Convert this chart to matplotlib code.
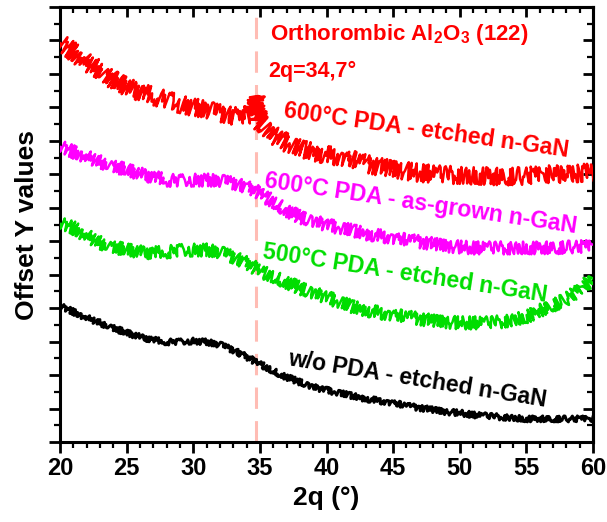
import matplotlib
matplotlib.use("Agg")
import matplotlib.pyplot as plt
from matplotlib.ticker import MultipleLocator, NullFormatter

# ---- data (y in offset units) ----
two_theta = list(range(20, 61))

red_theta = list(range(20, 35)) + [34.5, 34.7, 34.9] + list(range(36, 61))
red_600_etched = [11.92, 11.66, 11.33, 11.12, 10.82, 10.61, 10.46, 10.34, 10.22, 10.10,
                  10.01, 9.92, 9.83, 9.74, 9.77,
                  9.80, 10.35, 9.60,
                  9.17, 8.94, 8.76, 8.67, 8.58, 8.52, 8.43, 8.31, 8.22, 8.16,
                  8.10, 8.04, 8.01, 7.98, 7.98, 7.95, 7.95, 7.92, 7.95, 7.95,
                  7.98, 8.01, 8.01, 8.04, 8.07]

mag_600_asgrown = [8.82, 8.67, 8.52, 8.37, 8.25, 8.13, 8.01, 7.92, 7.83, 7.80,
                   7.83, 7.83, 7.80, 7.74, 7.62, 7.44, 7.17, 6.93, 6.72, 6.60,
                   6.49, 6.40, 6.31, 6.22, 6.16, 6.10, 6.04, 5.98, 5.92, 5.86,
                   5.83, 5.80, 5.80, 5.80, 5.80, 5.80, 5.80, 5.80, 5.83, 5.83, 5.86]

green_500_etched = [6.52, 6.40, 6.16, 5.95, 5.83, 5.74, 5.68, 5.65, 5.68, 5.72,
                    5.74, 5.74, 5.66, 5.53, 5.35, 5.11, 4.93, 4.78, 4.60, 4.45,
                    4.33, 4.18, 4.03, 3.94, 3.86, 3.80, 3.74, 3.68, 3.62, 3.59,
                    3.56, 3.56, 3.56, 3.59, 3.65, 3.74, 3.92, 4.09, 4.27, 4.54, 4.90]

black_wo_pda = [4.06, 3.89, 3.71, 3.56, 3.41, 3.26, 3.14, 3.05, 2.99, 2.99,
                3.02, 2.99, 2.90, 2.75, 2.54, 2.33, 2.12, 1.94, 1.79, 1.64,
                1.55, 1.46, 1.37, 1.29, 1.23, 1.17, 1.08, 1.02, 0.96, 0.90,
                0.87, 0.81, 0.78, 0.75, 0.72, 0.69, 0.69, 0.69, 0.69, 0.69, 0.69]

peak_position = 34.7
x_ticks = [20, 25, 30, 35, 40, 45, 50, 55, 60]

labels = ["600°C PDA - etched n-GaN", "600°C PDA - as-grown n-GaN",
          "500°C PDA - etched n-GaN", "w/o PDA - etched n-GaN"]

# ---- style ----
plt.rcParams["font.family"] = ["Liberation Sans", "DejaVu Sans"]
plt.rcParams["font.weight"] = "bold"
plt.rcParams["mathtext.fontset"] = "custom"
plt.rcParams["mathtext.rm"] = "Liberation Sans:bold"
plt.rcParams["mathtext.bf"] = "Liberation Sans:bold"
plt.rcParams["mathtext.it"] = "Liberation Sans:bold"

RED = "#ff0000"
MAG = "#ff00ff"
GRN = "#00dd00"
BLK = "#000000"

fig = plt.figure(figsize=(6.07, 5.22), dpi=100)
ax = fig.add_axes([60/607, 80/522, 533/607, 435/522])

ax.axvline(peak_position, color="#ffbcb4", lw=2.2, dashes=(7.0, 4.0), zorder=1)

# (x values, y values, colour, line width, noise-band half width in px)
curves = [(red_theta, red_600_etched, RED, 1.8, 9.0),
          (two_theta, mag_600_asgrown, MAG, 1.8, 6.5),
          (two_theta, green_500_etched, GRN, 1.8, 6.5),
          (two_theta, black_wo_pda, BLK, 2.2, 3.0)]
for xs, ys, c, lw, amp in curves:
    ln, = ax.plot(xs, ys, color=c, lw=lw, zorder=3)
    ln.set_sketch_params(amp, 0.7, 10.0)

ax.set_xlim(20, 60)
ax.set_ylim(0, 13)
ax.set_xticks(x_ticks)
ax.xaxis.set_minor_locator(MultipleLocator(1))
ax.yaxis.set_major_locator(MultipleLocator(1))
ax.yaxis.set_minor_locator(MultipleLocator(0.5))
ax.yaxis.set_major_formatter(NullFormatter())
ax.tick_params(which="major", direction="out", length=8, width=2, labelsize=17, pad=3)
ax.tick_params(which="minor", direction="out", length=4.5, width=1.6)
for s in ax.spines.values():
    s.set_linewidth(2.2)

secx = ax.secondary_xaxis("top")
secx.set_xticks(x_ticks)
secx.xaxis.set_minor_locator(MultipleLocator(1))
secx.tick_params(which="major", direction="in", length=7, width=2, labeltop=False)
secx.tick_params(which="minor", direction="in", length=4, width=1.6)
secy = ax.secondary_yaxis("right")
secy.yaxis.set_major_locator(MultipleLocator(1))
secy.yaxis.set_minor_locator(MultipleLocator(0.5))
secy.tick_params(which="major", direction="in", length=7, width=2, labelright=False)
secy.tick_params(which="minor", direction="in", length=4, width=1.6)
for sa in (secx, secy):
    for s in sa.spines.values():
        s.set_linewidth(2.2)

ax.set_xlabel("2q (°)", fontsize=19, fontweight="bold", labelpad=4)
ax.set_ylabel("Offset Y values", fontsize=19, fontweight="bold", labelpad=4)

ax.text(35.79, 12.01, r"Orthorombic Al$_{2}$O$_{3}$ (122)", color=RED, fontsize=16,
        fontweight="bold", ha="left", va="baseline")
ax.text(35.64, 10.91, "2q=34,7°", color=RED, fontsize=15.5, fontweight="bold",
        ha="left", va="baseline")

label_pos = [(36.77, 9.71, -8.0, RED), (35.27, 7.62, -8.4, MAG),
             (35.19, 5.50, -8.8, GRN), (37.07, 2.30, -9.2, BLK)]
for (x, y, rot, c), t in zip(label_pos, labels):
    ax.text(x, y, t, color=c, fontsize=16.6, fontweight="bold", rotation=rot,
            rotation_mode="anchor", ha="left", va="baseline")

fig.savefig("out.png", dpi=100)
